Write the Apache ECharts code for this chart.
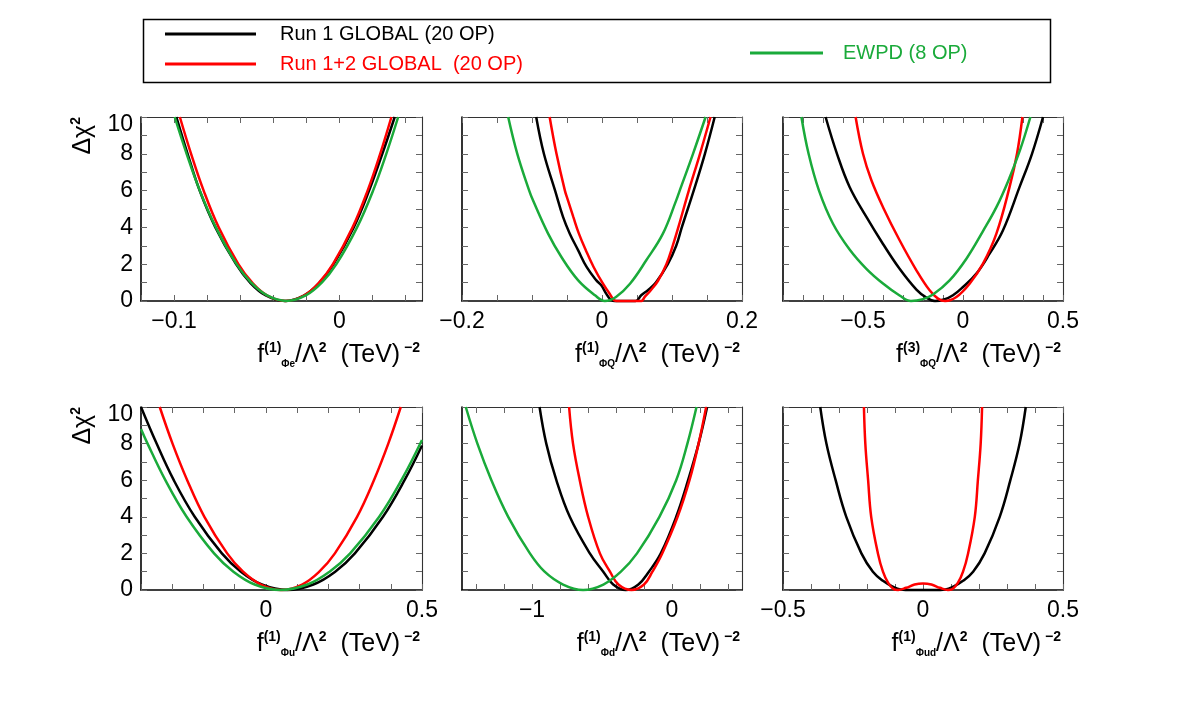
<!DOCTYPE html>
<html>
<head>
<meta charset="utf-8">
<script src="https://cdn.jsdelivr.net/npm/echarts@6/dist/echarts.min.js"></script>
<style>
  html, body { margin: 0; padding: 0; background: #fff; }
  #chart { width: 1182px; height: 709px; }
</style>
</head>
<body>
<div id="chart"></div>
<script>
// curves, points are [coefficient, delta chi2]
var phiE_run1 = [[-0.0986,10],[-0.0918,8],[-0.0845,6],[-0.0750,4],[-0.0625,2],[-0.0540,1],[-0.0445,0.3],[-0.033,0],[-0.0215,0.3],[-0.012,1],[-0.0035,2],[0.0087,4],[0.018,6],[0.026,8],[0.0335,10]];
var phiE_run12 = [[-0.0965,10],[-0.0897,8],[-0.0821,6],[-0.073,4],[-0.0611,2],[-0.0527,1],[-0.0436,0.3],[-0.0325,0],[-0.0214,0.3],[-0.0123,1],[-0.0039,2],[0.008,4],[0.0171,6],[0.0247,8],[0.0315,10]];
var phiE_ewpd = [[-0.0996,10],[-0.0924,8],[-0.0844,6],[-0.0747,4],[-0.0622,2],[-0.0534,1],[-0.0437,0.3],[-0.032,0],[-0.0203,0.3],[-0.0106,1],[-0.0018,2],[0.0107,4],[0.0204,6],[0.0284,8],[0.0356,10]];

var phiQ1_run1 = [[-0.094,10],[-0.083,8],[-0.067,6],[-0.0557,4.57],[-0.046,3.66],[-0.034,2.75],[-0.022,1.85],[-0.008,1.12],[-0.001,0.85],[0.006,0.4],[0.011,0.13],[0.018,0],[0.048,0],[0.056,0.31],[0.066,0.6],[0.077,1],[0.094,2],[0.106,3],[0.114,4],[0.131,6],[0.147,8],[0.161,10]];
var phiQ1_run12 = [[-0.0748,10],[-0.065,8],[-0.053,6],[-0.0486,5.47],[-0.041,4.57],[-0.033,3.66],[-0.023,2.75],[-0.012,1.85],[0.0014,0.94],[0.011,0.4],[0.02,0],[0.056,0],[0.061,0.22],[0.07,0.6],[0.08,1.1],[0.092,2],[0.101,3],[0.109,4],[0.124,6],[0.14,8],[0.155,10]];
var phiQ1_ewpd = [[-0.134,10],[-0.121,8],[-0.104,6],[-0.0986,5.47],[-0.077,3.66],[-0.058,2.39],[-0.034,1.12],[-0.01,0.31],[0.004,0],[0.02,0.22],[0.04,0.94],[0.063,2.2],[0.087,3.66],[0.106,5.47],[0.111,6],[0.13,8],[0.148,10]];

var phiQ3_run1 = [[-0.687,10],[-0.63,8],[-0.567,6.2],[-0.483,4.57],[-0.4,3.1],[-0.317,1.75],[-0.233,0.62],[-0.183,0.18],[-0.14,0],[-0.095,0.08],[-0.05,0.31],[0,0.76],[0.067,1.49],[0.133,2.57],[0.2,3.84],[0.283,6.2],[0.345,8],[0.4,10]];
var phiQ3_run12 = [[-0.537,10],[-0.5,8],[-0.458,6.56],[-0.4,5.1],[-0.317,3.3],[-0.233,1.67],[-0.167,0.58],[-0.125,0.13],[-0.09,0],[-0.033,0.22],[0.033,0.94],[0.1,2.03],[0.167,3.66],[0.233,6.2],[0.27,8],[0.297,10]];
var phiQ3_ewpd = [[-0.808,10],[-0.772,8],[-0.72,6],[-0.65,4.2],[-0.567,2.8],[-0.483,1.75],[-0.4,0.95],[-0.317,0.3],[-0.26,0],[-0.2,0.1],[-0.15,0.35],[-0.067,1.12],[0.017,2.3],[0.1,3.8],[0.167,5.1],[0.225,6.5],[0.285,8.2],[0.337,10]];

var phiU_run1 = [[-0.4,10],[-0.35,8],[-0.295,6],[-0.228,4],[-0.141,2],[-0.08,1],[-0.013,0.3],[0.068,0],[0.152,0.3],[0.222,1],[0.285,2],[0.375,4],[0.444,6],[0.5,7.9]];
var phiU_run12 = [[-0.34,10],[-0.299,8],[-0.252,6],[-0.197,4],[-0.124,2],[-0.073,1],[-0.016,0.3],[0.05,0],[0.116,0.3],[0.171,1],[0.221,2],[0.292,4],[0.346,6],[0.392,8],[0.432,10]];
var phiU_ewpd = [[-0.4,8.8],[-0.379,8],[-0.322,6],[-0.254,4],[-0.166,2],[-0.104,1],[-0.036,0.3],[0.046,0],[0.133,0.3],[0.204,1],[0.27,2],[0.363,4],[0.434,6],[0.5,8.2]];

var phiD_run1 = [[-0.946,10],[-0.898,8],[-0.826,6],[-0.73,4],[-0.587,2],[-0.491,1],[-0.42,0.3],[-0.33,0],[-0.24,0.3],[-0.165,1],[-0.08,2],[0.03,4],[0.115,6],[0.19,8],[0.251,10]];
var phiD_run12 = [[-0.735,10],[-0.707,8],[-0.659,6],[-0.599,4],[-0.515,2],[-0.443,1],[-0.383,0.3],[-0.29,0],[-0.2,0.3],[-0.14,1],[-0.07,2],[0.04,4],[0.125,6],[0.19,8],[0.244,10]];
var phiD_ewpd = [[-1.473,10],[-1.39,8],[-1.29,6],[-1.17,4],[-1.015,2],[-0.91,1],[-0.778,0.3],[-0.635,0],[-0.49,0.3],[-0.365,1],[-0.25,2],[-0.09,4],[0.03,6],[0.11,8],[0.175,10]];

var phiUd_run1 = [[-0.367,10],[-0.345,8],[-0.312,6],[-0.274,4],[-0.22,2],[-0.179,1],[-0.143,0.5],[-0.11,0.2],[-0.08,0.03],[-0.04,0],[0,0],[0.04,0],[0.08,0.03],[0.11,0.2],[0.143,0.5],[0.179,1],[0.22,2],[0.274,4],[0.312,6],[0.345,8],[0.367,10]];
var phiUd_run12 = [[-0.211,10],[-0.206,8],[-0.196,6],[-0.185,4],[-0.161,2],[-0.143,1],[-0.125,0.4],[-0.105,0.05],[-0.089,0],[-0.06,0.12],[-0.03,0.3],[0,0.36],[0.03,0.3],[0.06,0.12],[0.089,0],[0.105,0.05],[0.125,0.4],[0.143,1],[0.161,2],[0.185,4],[0.196,6],[0.206,8],[0.211,10]];

var seriesNames = ['Run 1 GLOBAL (20 OP)', 'Run 1+2 GLOBAL  (20 OP)', 'EWPD (8 OP)'];
var seriesColors = ['#000000', '#ff0000', '#1aaa3a'];

var yTicks = [0,1,2,3,4,5,6,7,8,9,10];
var yLabels = [0,2,4,6,8,10];

var ticksPhiE = [-0.12,-0.1,-0.08,-0.06,-0.04,-0.02,0,0.02,0.04];
var labelsPhiE = [-0.1, 0];
var ticksPhiQ1 = [-0.2,-0.15,-0.1,-0.05,0,0.05,0.1,0.15,0.2];
var labelsPhiQ1 = [-0.2, 0, 0.2];
var ticksPhiQ3 = [-0.9,-0.8,-0.7,-0.6,-0.5,-0.4,-0.3,-0.2,-0.1,0,0.1,0.2,0.3,0.4,0.5];
var labelsPhiQ3 = [-0.5, 0, 0.5];
var ticksPhiU = [-0.4,-0.3,-0.2,-0.1,0,0.1,0.2,0.3,0.4,0.5];
var labelsPhiU = [0, 0.5];
var ticksPhiD = [-1.4,-1.2,-1,-0.8,-0.6,-0.4,-0.2,0,0.2,0.4];
var labelsPhiD = [-1, 0];
var ticksPhiUd = [-0.5,-0.4,-0.3,-0.2,-0.1,0,0.1,0.2,0.3,0.4,0.5];
var labelsPhiUd = [-0.5, 0, 0.5];

var FONT = "'Liberation Sans', Arial, Helvetica, sans-serif";

var panels = [
  { grid: {left: 141, top: 117, width: 281, height: 184}, min: -0.12, max: 0.05, ticks: ticksPhiE, labels: labelsPhiE, sup: '(1)', sub: 'Φe', curves: [phiE_run1, phiE_run12, phiE_ewpd], yName: true },
  { grid: {left: 462, top: 117, width: 280, height: 184}, min: -0.2, max: 0.2, ticks: ticksPhiQ1, labels: labelsPhiQ1, sup: '(1)', sub: 'ΦQ', curves: [phiQ1_run1, phiQ1_run12, phiQ1_ewpd] },
  { grid: {left: 783, top: 117, width: 280, height: 184}, min: -0.9, max: 0.5, ticks: ticksPhiQ3, labels: labelsPhiQ3, sup: '(3)', sub: 'ΦQ', curves: [phiQ3_run1, phiQ3_run12, phiQ3_ewpd] },
  { grid: {left: 141, top: 407, width: 281, height: 183}, min: -0.4, max: 0.5, ticks: ticksPhiU, labels: labelsPhiU, sup: '(1)', sub: 'Φu', curves: [phiU_run1, phiU_run12, phiU_ewpd], yName: true },
  { grid: {left: 462, top: 407, width: 280, height: 183}, min: -1.5, max: 0.5, ticks: ticksPhiD, labels: labelsPhiD, sup: '(1)', sub: 'Φd', curves: [phiD_run1, phiD_run12, phiD_ewpd] },
  { grid: {left: 783, top: 407, width: 280, height: 183}, min: -0.5, max: 0.5, ticks: ticksPhiUd, labels: labelsPhiUd, sup: '(1)', sub: 'Φud', curves: [phiUd_run1, phiUd_run12] }
];

function fmt(v) {
  return (v < 0 ? '\u2212' : '') + Math.abs(v);
}

var titleRich = {
  m: { fontSize: 25, fontFamily: FONT, color: '#000', lineHeight: 28, verticalAlign: 'middle' },
  sup: { fontSize: 14, fontWeight: 'bold', fontFamily: FONT, color: '#000', lineHeight: 16, verticalAlign: 'top' },
  sub: { fontSize: 10, fontWeight: 'bold', fontFamily: FONT, color: '#000', lineHeight: 12, verticalAlign: 'bottom' }
};

var grids = [], xAxes = [], yAxes = [], series = [];
var tickStyle = { show: true, inside: true, length: 6, lineStyle: { color: '#666', width: 1 } };
var mainLine = { show: true, onZero: false, lineStyle: { color: '#000', width: 1.6 } };
var edgeLine = { show: true, onZero: false, lineStyle: { color: '#333', width: 1.1 } };

panels.forEach(function (p, i) {
  grids.push(p.grid);
  xAxes.push({
    type: 'value', gridIndex: i, position: 'bottom', min: p.min, max: p.max,
    axisLine: mainLine,
    axisTick: Object.assign({ customValues: p.ticks }, tickStyle),
    axisLabel: { customValues: p.labels, formatter: fmt, fontSize: 23, fontFamily: FONT, color: '#000', margin: 9 },
    splitLine: { show: false },
    name: '{m|f}{sup|' + p.sup + '}{sub|' + p.sub + '}{m|/Λ}{sup|2}{m|  (TeV)}{sup| \u22122}',
    nameLocation: 'end', nameGap: 0,
    nameTextStyle: { align: 'right', verticalAlign: 'top', padding: [40, 2, 0, 0], rich: titleRich }
  });
  xAxes.push({
    type: 'value', gridIndex: i, position: 'top', min: p.min, max: p.max,
    axisLine: edgeLine,
    axisTick: Object.assign({ customValues: p.ticks }, tickStyle),
    axisLabel: { show: false },
    splitLine: { show: false }
  });
  var yl = {
    type: 'value', gridIndex: i, position: 'left', min: 0, max: 10,
    axisLine: mainLine,
    axisTick: Object.assign({ customValues: yTicks }, tickStyle),
    axisLabel: {
      show: !!p.yName, customValues: yLabels, fontSize: 23, fontFamily: FONT, color: '#000', margin: 8,
      formatter: function (v) { return v === 10 ? '{t|10}' : String(v); },
      rich: { t: { fontSize: 23, fontFamily: FONT, color: '#000', padding: [15, 0, 0, 0] } }
    },
    splitLine: { show: false }
  };
  if (p.yName) {
    yl.name = '{m|Δχ}{sup|2}';
    yl.nameLocation = 'end';
    yl.nameGap = 0;
    yl.nameRotate = 90;
    yl.nameTextStyle = {
      align: 'right', verticalAlign: 'bottom', padding: [0, 0, 44, 0],
      rich: {
        m: { fontSize: 25, fontFamily: FONT, color: '#000', lineHeight: 28, verticalAlign: 'middle' },
        sup: { fontSize: 14, fontWeight: 'bold', fontFamily: FONT, color: '#000', lineHeight: 16, verticalAlign: 'top' }
      }
    };
  }
  yAxes.push(yl);
  yAxes.push({
    type: 'value', gridIndex: i, position: 'right', min: 0, max: 10,
    axisLine: edgeLine,
    axisTick: Object.assign({ customValues: yTicks }, tickStyle),
    axisLabel: { show: false },
    splitLine: { show: false }
  });
  p.curves.forEach(function (c, k) {
    series.push({
      type: 'line', name: seriesNames[k], data: c,
      xAxisIndex: 2 * i, yAxisIndex: 2 * i,
      smooth: 0.4, showSymbol: false, clip: false,
      color: seriesColors[k],
      lineStyle: { width: 2.5, color: seriesColors[k] }
    });
  });
});

function legendAt(name, color, left, top, w, gap) {
  return {
    data: [name], left: left, top: top, padding: 0,
    icon: 'rect', itemWidth: w, itemHeight: 3,
    textStyle: { color: color, fontSize: 20, fontFamily: FONT, padding: [0, 0, 0, gap] }
  };
}

var chart = echarts.init(document.getElementById('chart'));
chart.setOption({
  animation: false,
  backgroundColor: '#fff',
  legend: [
    legendAt(seriesNames[0], seriesColors[0], 165, 24, 91, 19),
    legendAt(seriesNames[1], seriesColors[1], 165, 54, 91, 19),
    legendAt(seriesNames[2], seriesColors[2], 750, 43, 73, 15)
  ],
  graphic: [{
    type: 'rect', left: 141, top: 17, silent: true,
    shape: { width: 907, height: 63 },
    style: { fill: 'none', stroke: '#000', lineWidth: 1.5 }
  }],
  grid: grids,
  xAxis: xAxes,
  yAxis: yAxes,
  series: series
});
</script>
</body>
</html>
